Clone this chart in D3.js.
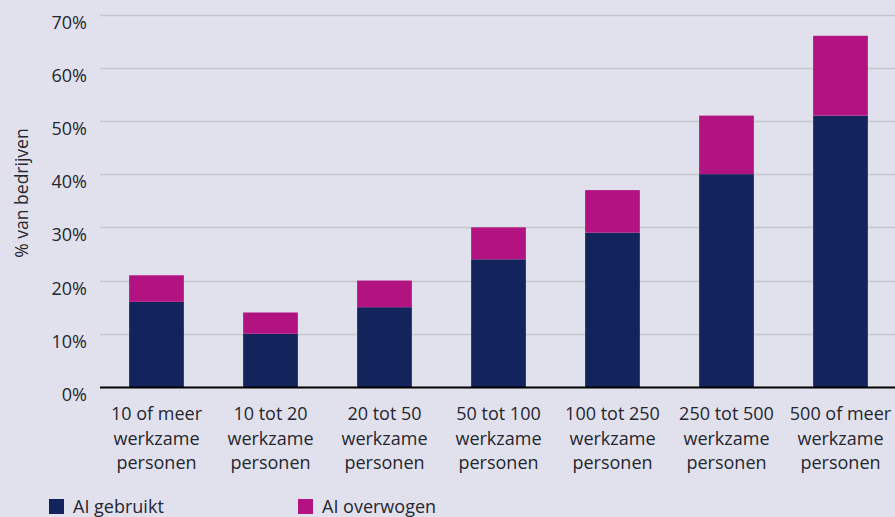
<!DOCTYPE html>
<html>
<head>
<meta charset="utf-8">
<script src="https://cdn.jsdelivr.net/npm/d3@7"></script>
<style>
  html, body { margin: 0; padding: 0; background: #e1e1ee; }
  svg { display: block; font-family: "Open Sans", sans-serif; }
</style>
</head>
<body>
<script>
// afmetingen van het canvas
var w = 895, h = 517;

// gegevens
const categories = [
  ["10 of meer", "werkzame", "personen"],
  ["10 tot 20", "werkzame", "personen"],
  ["20 tot 50", "werkzame", "personen"],
  ["50 tot 100", "werkzame", "personen"],
  ["100 tot 250", "werkzame", "personen"],
  ["250 tot 500", "werkzame", "personen"],
  ["500 of meer", "werkzame", "personen"]
];
const aiGebruikt = [16, 10, 15, 24, 29, 40, 51];
const aiOverwogen = [5, 4, 5, 6, 8, 11, 15];
const yTicks = [0, 10, 20, 30, 40, 50, 60, 70];
const seriesNames = ["AI gebruikt", "AI overwogen"];
const colors = ["#13245c", "#b31380"];

var margin = { top: 14.5, left: 99.5, bottom: 130, right: -2.5 };

var svg = d3.select("body").append("svg")
  .attr("width", w)
  .attr("height", h);

svg.append("rect").attr("width", w).attr("height", h).attr("fill", "#e1e1ee");

var x = d3.scaleBand()
  .domain(d3.range(categories.length))
  .range([margin.left, w - margin.right])
  .paddingInner(0.52)
  .paddingOuter(0.26);

var y = d3.scaleLinear()
  .domain([0, 70])
  .range([387, margin.top]);

// rasterlijnen
svg.append("g").selectAll("line")
  .data(yTicks.filter(function(d) { return d > 0; }))
  .enter().append("line")
  .attr("x1", 100)
  .attr("x2", w)
  .attr("y1", function(d) { return Math.round(y(d)) + 0.5; })
  .attr("y2", function(d) { return Math.round(y(d)) + 0.5; })
  .attr("stroke", "#c6c6cc")
  .attr("stroke-width", 1.5);

// y-as labels (iets onder de rasterlijn)
svg.append("g").selectAll("text")
  .data(yTicks)
  .enter().append("text")
  .attr("x", 87)
  .attr("y", function(d) { return y(d) + 14; })
  .attr("text-anchor", "end")
  .attr("fill", "#26262e")
  .attr("font-size", 18)
  .text(function(d) { return d + "%"; });

svg.append("text")
  .attr("transform", "translate(28,193) rotate(-90)")
  .attr("text-anchor", "middle")
  .attr("fill", "#26262e")
  .attr("font-size", 17.5)
  .text("% van bedrijven");

// gestapelde staven
var stacked = d3.stack().keys([0, 1])(aiGebruikt.map(function(v, i) {
  return { 0: v, 1: aiOverwogen[i] };
}));

svg.append("g").selectAll("g")
  .data(stacked)
  .enter().append("g")
  .attr("fill", function(d, i) { return colors[i]; })
  .selectAll("rect")
  .data(function(d) { return d; })
  .enter().append("rect")
  .attr("x", function(d, i) { return x(i); })
  .attr("width", x.bandwidth())
  .attr("y", function(d) { return y(d[1]); })
  .attr("height", function(d) { return y(d[0]) - y(d[1]); });

// basislijn
svg.append("line")
  .attr("x1", 100).attr("x2", w)
  .attr("y1", 387.5).attr("y2", 387.5)
  .attr("stroke", "#000")
  .attr("stroke-width", 2);

// categorie labels
var cat = svg.append("g").selectAll("text")
  .data(categories)
  .enter().append("text")
  .attr("text-anchor", "middle")
  .attr("fill", "#26262e")
  .attr("font-size", 18);

cat.selectAll("tspan")
  .data(function(d, i) { return d.map(function(s) { return { s: s, i: i }; }); })
  .enter().append("tspan")
  .attr("x", function(d) { return x(d.i) + x.bandwidth() / 2; })
  .attr("y", function(d, j) { return 420 + j * 24.5; })
  .text(function(d) { return d.s; });

// legenda
var legendX = [49, 298];
var leg = svg.append("g").selectAll("g")
  .data(seriesNames)
  .enter().append("g")
  .attr("transform", function(d, i) { return "translate(" + legendX[i] + ",499)"; });

leg.append("rect")
  .attr("width", 15).attr("height", 15)
  .attr("fill", function(d, i) { return colors[i]; });

leg.append("text")
  .attr("x", 24)
  .attr("y", 14)
  .attr("fill", "#26262e")
  .attr("font-size", 18)
  .text(function(d) { return d; });
</script>
</body>
</html>
